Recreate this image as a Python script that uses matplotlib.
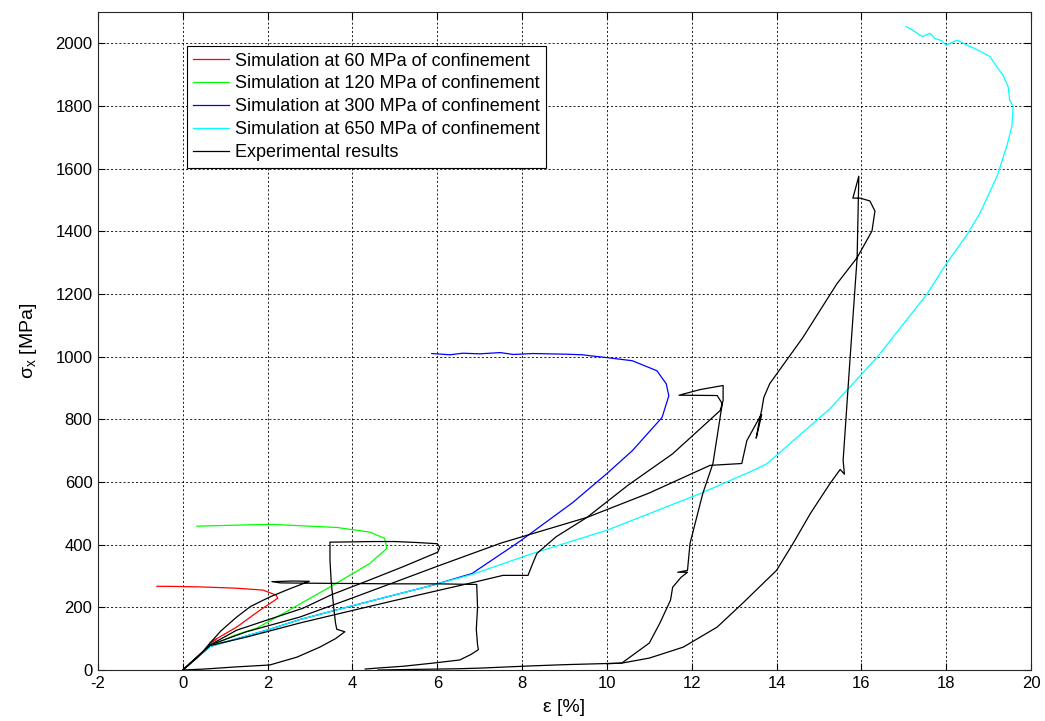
import matplotlib
matplotlib.use('Agg')
import matplotlib.pyplot as plt

plt.rcParams['font.family'] = ['Liberation Sans', 'DejaVu Sans']
plt.rcParams['axes.unicode_minus'] = False

# simulations (strain %, stress MPa)
sim60_x = [0, 0.3, 0.55, 0.64, 0.78, 0.66, 0.8, 1.27, 1.82, 2.24, 2.2, 1.89, 1.27, 0.47, -0.3, -0.61]
sim60_y = [0, 35, 65, 86, 98, 88, 100, 137, 191, 229, 239, 255, 261, 265, 267, 267]

sim120_x = [0, 0.3, 0.64, 1.2, 1.75, 2.36, 3.47, 4.41, 4.81, 4.76, 4.41, 3.63, 2.05, 0.33]
sim120_y = [0, 35, 75, 110, 134, 180, 265, 340, 388, 420, 440, 455, 465, 459]

sim300_x = [0, 0.64, 2.05, 2.76, 4.0, 5.9, 6.82, 7.95, 9.2, 10.0, 10.6, 11.3, 11.46, 11.4, 11.18,
            10.6, 10.0, 9.6, 9.43, 9.0, 8.25, 7.8, 7.48, 7.0, 6.6, 6.3, 5.87]
sim300_y = [0, 75, 130, 161, 205, 271, 308, 411, 535, 627, 700, 806, 875, 913, 955,
            987, 997, 1003, 1006, 1008, 1010, 1007, 1013, 1009, 1011, 1006, 1010]

sim650_x = [0, 0.64, 2.05, 2.76, 4.0, 5.9, 6.82, 8.25, 10.0, 12.2, 13.37, 13.77, 15.26, 16.37, 17.55,
            18.0, 18.5, 18.8, 19.2, 19.43, 19.55, 19.58, 19.5, 19.46, 19.34, 19.22, 19.03, 18.8,
            18.5, 18.25, 18.0, 17.9, 17.73, 17.62, 17.43, 17.22, 17.05]
sim650_y = [0, 75, 130, 161, 205, 271, 305, 372, 446, 563, 632, 658, 834, 998, 1200,
            1296, 1391, 1459, 1576, 1672, 1736, 1799, 1818, 1862, 1898, 1920, 1958, 1975,
            1994, 2010, 1994, 2008, 2016, 2032, 2022, 2041, 2054]

# experimental results, one list per test
exp1_x = [0, 0.2, 0.45, 0.64, 0.9, 1.27, 1.6, 2.05, 2.5, 2.92, 2.98, 2.6, 2.1, 2.3, 3.0, 4.0, 5.0,
          6.0, 6.93, 6.95, 6.92, 6.95, 6.97, 6.8, 6.53, 5.9, 5.2, 4.57, 4.3]
exp1_y = [0, 25, 55, 86, 125, 169, 203, 233, 258, 280, 283, 284, 282, 278, 277, 276, 275,
          275, 273, 200, 130, 80, 65, 50, 32, 22, 12, 6, 3]

exp2_x = [0, 0.3, 0.64, 1.27, 2.0, 2.83, 3.5, 4.4, 5.2, 6.01, 6.06, 6.0, 5.5, 5.0, 4.5, 4.0, 3.47,
          3.47, 3.5, 3.55, 3.6, 3.63, 3.82, 3.6, 3.23, 2.69, 2.05, 1.27, 0.5, 0]
exp2_y = [0, 35, 80, 127, 160, 197, 240, 287, 330, 376, 392, 403, 407, 410, 410, 409, 408,
          350, 280, 210, 150, 130, 122, 100, 73, 41, 16, 10, 3, 0]

exp3_x = [0, 0.64, 1.5, 2.76, 4.0, 5.0, 6.06, 6.77, 7.55, 8.14, 8.25, 8.35, 8.8, 9.53, 10.5, 11.55,
          12.2, 12.67, 12.74, 12.74, 12.2, 11.7, 12.6, 12.72, 12.5, 12.26, 11.96, 11.9, 11.67, 11.9,
          11.75, 11.55, 11.5, 11.25, 11.0, 10.35, 10.0]
exp3_y = [0, 78, 105, 150, 190, 222, 255, 277, 302, 302, 340, 372, 425, 487, 590, 690,
          770, 828, 860, 908, 895, 877, 876, 850, 659, 563, 404, 318, 312, 312,
          296, 264, 223, 150, 86, 22, 20]

exp4_x = [0, 0.64, 1.5, 2.76, 4.0, 6.06, 7.5, 9.53, 11.0, 12.43, 13.18, 13.3, 13.6, 13.65, 13.52,
          13.6, 13.65, 13.7, 13.84, 14.62, 15.42, 15.9, 16.25, 16.32, 16.2, 15.97, 15.8, 15.94,
          15.9, 15.73, 15.57, 15.6, 15.5, 15.26, 14.8, 14.39, 14.0, 13.2, 12.6, 11.8, 11.0, 10.35,
          9.0, 8.2, 7.0, 6.5, 5.5, 4.6]
exp4_y = [0, 80, 122, 169, 230, 334, 405, 487, 565, 653, 659, 732, 806, 815, 740,
          800, 830, 870, 914, 1061, 1232, 1316, 1401, 1465, 1497, 1506, 1506, 1576,
          1316, 987, 669, 625, 640, 595, 500, 404, 318, 213, 137, 73, 38, 22,
          17, 13, 6, 4, 2, 0]

labels = ['Simulation at 60 MPa of confinement', 'Simulation at 120 MPa of confinement',
          'Simulation at 300 MPa of confinement', 'Simulation at 650 MPa of confinement',
          'Experimental results']

fig = plt.figure(figsize=(10.45, 7.21), dpi=100)
ax = fig.add_axes([98/1045, 51/721, 933/1045, 658/721])

lw = 0.9
ax.plot(sim60_x, sim60_y, color='#ff0000', lw=lw, label=labels[0])
ax.plot(sim120_x, sim120_y, color='#00ff00', lw=lw, label=labels[1])
ax.plot(sim300_x, sim300_y, color='#0000ff', lw=lw, label=labels[2])
ax.plot(sim650_x, sim650_y, color='#00ffff', lw=lw, label=labels[3])
ax.plot(exp1_x, exp1_y, color='k', lw=lw, label=labels[4])
for ex, ey in [(exp2_x, exp2_y), (exp3_x, exp3_y), (exp4_x, exp4_y)]:
    ax.plot(ex, ey, color='k', lw=lw)

ax.set_xlim(-2, 20)
ax.set_ylim(0, 2100)
ax.set_xticks(range(-2, 21, 2))
ax.set_yticks(range(0, 2001, 200))
ax.grid(True, color='k', linestyle=(0, (2.5, 2.5)), linewidth=0.6)
ax.tick_params(direction='in', length=5, width=0.8, top=True, right=True, labelsize=12, pad=4)
for s in ax.spines.values():
    s.set_linewidth(0.8)
    s.set_color('#262626')

ax.set_xlabel('ε [%]', fontsize=14, labelpad=6)
ax.set_ylabel(r'$\mathregular{\sigma_x}$ [MPa]', fontsize=14, labelpad=12)

leg = ax.legend(loc='upper left', bbox_to_anchor=(0.0954, 0.948), borderaxespad=0,
                fontsize=13, fancybox=False, framealpha=1, edgecolor='k',
                handlelength=2.0, handletextpad=0.3, labelspacing=0.33, borderpad=0.35)
leg.get_frame().set_linewidth(0.8)

fig.savefig('out.png', dpi=100)
